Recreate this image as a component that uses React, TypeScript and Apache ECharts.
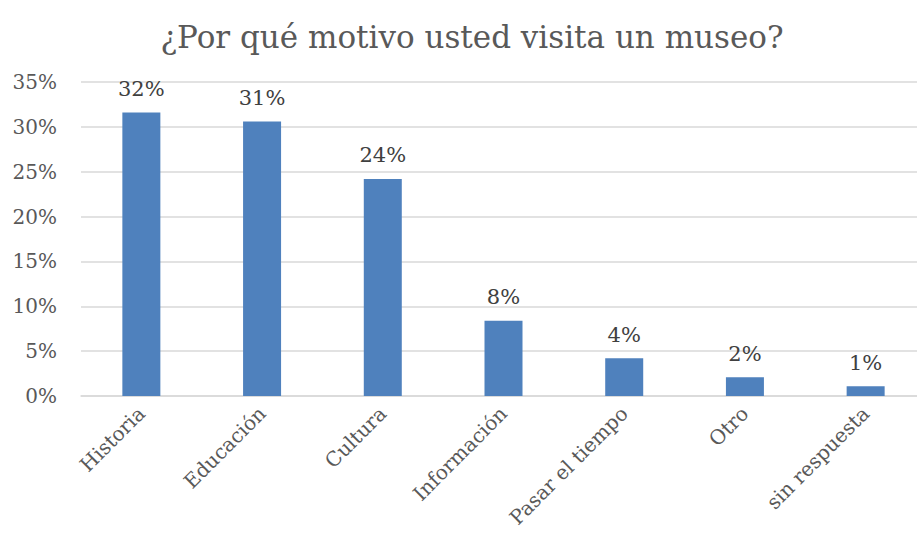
import React, { useEffect, useRef } from "react";
import * as echarts from "echarts";

const categories = ["Historia", "Educación", "Cultura", "Información", "Pasar el tiempo", "Otro", "sin respuesta"];
const values = [0.316, 0.306, 0.242, 0.084, 0.042, 0.021, 0.011];
const yTicks = [0, 0.05, 0.1, 0.15, 0.2, 0.25, 0.3, 0.35];

const FONT = "DejaVu Serif";

export default function App() {
  const ref = useRef<HTMLDivElement>(null);
  useEffect(() => {
    if (!ref.current) return;
    const chart = echarts.init(ref.current, null, { renderer: "svg" });
    chart.setOption({
      animation: false,
      backgroundColor: "#ffffff",
      title: {
        text: "¿Por qué motivo usted visita un museo?",
        left: 467,
        textAlign: "center",
        top: 16,
        textStyle: { fontFamily: FONT, fontSize: 31, fontWeight: "normal", color: "#595959" },
      },
      grid: { left: 81, top: 82, width: 845, height: 314 },
      xAxis: {
        type: "category",
        data: categories,
        axisLine: { show: true, lineStyle: { color: "#d9d9d9", width: 1.5 } },
        axisTick: { show: false },
        axisLabel: {
          rotate: 45,
          interval: 0,
          margin: 14,
          fontFamily: FONT,
          fontSize: 20,
          color: "#595959",
        },
      },
      yAxis: {
        type: "value",
        min: 0,
        max: 0.35,
        interval: 0.05,
        axisLine: { show: false },
        axisTick: { show: false },
        splitLine: { lineStyle: { color: "#d9d9d9", width: 1.5 } },
        axisLabel: {
          margin: 24,
          fontFamily: FONT,
          fontSize: 20,
          color: "#595959",
          formatter: (v: number) => {
            const t = yTicks.find((x) => Math.abs(x - v) < 1e-9);
            return Math.round((t ?? v) * 100) + "%";
          },
        },
      },
      series: [
        {
          type: "bar",
          data: values,
          barWidth: 38,
          itemStyle: { color: "#4f81bd" },
          label: {
            show: true,
            position: "top",
            distance: 13,
            fontFamily: FONT,
            fontSize: 21,
            color: "#404040",
            formatter: (p: any) => Math.round(p.value * 100) + "%",
          },
        },
      ],
    });
    return () => chart.dispose();
  }, []);
  return (
    <div style={{ position: "absolute", left: 0, top: 0, width: 917, height: 540, overflow: "hidden", background: "#fff" }}>
      <div ref={ref} style={{ width: 930, height: 540 }} />
    </div>
  );
}
